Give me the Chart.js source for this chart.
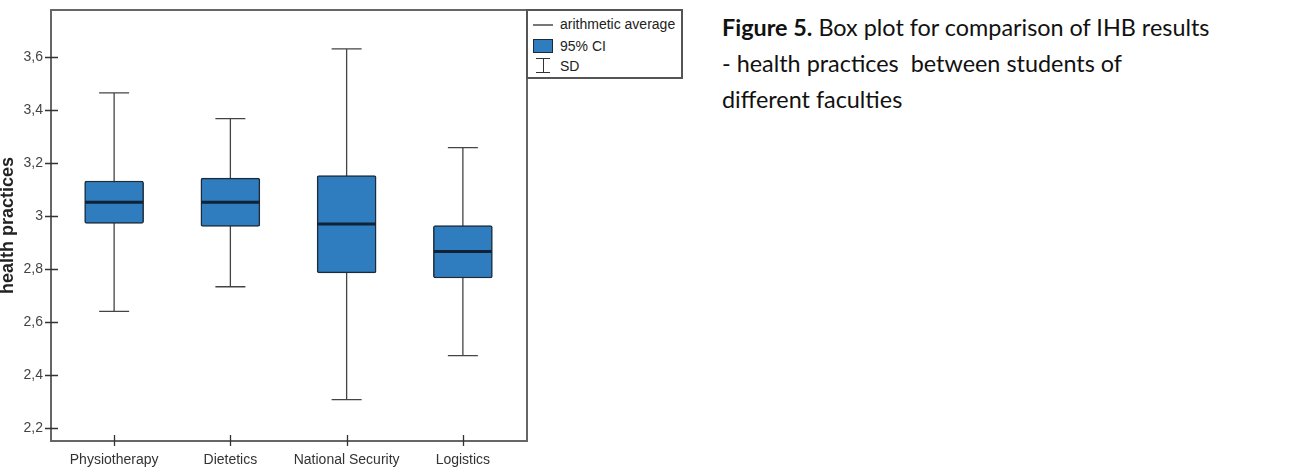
<!DOCTYPE html>
<html>
<head>
<meta charset="utf-8">
<script src="https://cdn.jsdelivr.net/npm/chart.js@4"></script>
<style>
  body { margin: 0; background: #fff; }
  #page { position: relative; width: 1312px; height: 475px; overflow: hidden; font-family: "Liberation Sans", Arial, sans-serif; }
  #wrap { position: absolute; left: 0; top: 0; width: 530px; height: 475px; }
  #legend { position: absolute; left: 526px; top: 9px; width: 157px; height: 70px; border: 2px solid #555; box-sizing: border-box; background: #fff; font-size: 14px; color: #222; }
  #legend .row { position: absolute; left: 32px; line-height: 16px; }
  #legend .sw { position: absolute; }
  #caption { position: absolute; left: 722px; top: 9px; font-family: Lato, "Open Sans", sans-serif; font-size: 23.4px; line-height: 36px; color: #111; white-space: nowrap; }
</style>
</head>
<body>
<div id="page">
  <div id="wrap"><canvas id="boxChart" width="530" height="475"></canvas></div>
  <div id="legend">
    <div class="sw" style="left:5px;top:13px;width:20px;height:0;border-top:2px solid #777;"></div>
    <div class="row" style="top:5px;">arithmetic average</div>
    <div class="sw" style="left:5px;top:28px;width:20px;height:14px;background:#2f7cbf;border:1.5px solid #1c2b3a;box-sizing:border-box;"></div>
    <div class="row" style="top:27px;">95% CI</div>
    <div class="sw" style="left:8px;top:47px;width:14px;height:0;border-top:1.5px solid #333;"></div>
    <div class="sw" style="left:14.5px;top:47px;width:0;height:15px;border-left:1.5px solid #333;"></div>
    <div class="sw" style="left:8px;top:61px;width:14px;height:0;border-top:1.5px solid #333;"></div>
    <div class="row" style="top:47px;">SD</div>
  </div>
  <div id="caption"><b>Figure 5.</b> Box plot for comparison of IHB results<br>- health practices&nbsp; between students of<br>different faculties</div>
</div>
<script>
// faculties on the x axis
const categories = ['Physiotherapy', 'Dietetics', 'National Security', 'Logistics'];
// arithmetic average
const means = [3.052, 3.052, 2.970, 2.866];
// 95% CI (box)
const ciLow = [2.972, 2.961, 2.785, 2.766];
const ciHigh = [3.132, 3.143, 3.152, 2.964];
// SD (whiskers)
const sdLow = [2.640, 2.733, 2.307, 2.473];
const sdHigh = [3.464, 3.367, 3.630, 3.258];
// y axis ticks
const yTicks = [2.2, 2.4, 2.6, 2.8, 3.0, 3.2, 3.4, 3.6];

const boxFill = '#2f7cbf';
const boxEdge = '#1c2b3a';

// whiskers, mean lines, frame and crossing tick marks
const boxExtras = {
    id: 'boxExtras',
    beforeDatasetsDraw(chart) {
        const ctx = chart.ctx;
        const x = chart.scales.x, y = chart.scales.y;
        ctx.save();
        ctx.strokeStyle = '#444';
        ctx.lineWidth = 1.3;
        categories.forEach((c, i) => {
            const cx = x.getPixelForValue(i);
            const top = y.getPixelForValue(sdHigh[i]);
            const bot = y.getPixelForValue(sdLow[i]);
            ctx.beginPath();
            ctx.moveTo(cx, top); ctx.lineTo(cx, bot);
            ctx.moveTo(cx - 15, top); ctx.lineTo(cx + 15, top);
            ctx.moveTo(cx - 15, bot); ctx.lineTo(cx + 15, bot);
            ctx.stroke();
        });
        ctx.restore();
    },
    afterDatasetsDraw(chart) {
        const ctx = chart.ctx;
        const x = chart.scales.x, y = chart.scales.y;
        ctx.save();
        ctx.strokeStyle = '#0f2236';
        ctx.lineWidth = 3;
        categories.forEach((c, i) => {
            const cx = x.getPixelForValue(i);
            const my = y.getPixelForValue(means[i]);
            ctx.beginPath();
            ctx.moveTo(cx - 29, my); ctx.lineTo(cx + 29, my);
            ctx.stroke();
        });
        ctx.restore();
    },
    afterDraw(chart) {
        const ctx = chart.ctx;
        const x = chart.scales.x, y = chart.scales.y;
        const a = chart.chartArea;
        const fl = a.left - 5, fr = a.right + 6;
        ctx.save();
        ctx.strokeStyle = '#666';
        ctx.lineWidth = 2;
        ctx.strokeRect(fl, a.top, fr - fl, a.bottom - a.top);
        ctx.strokeStyle = '#333';
        ctx.lineWidth = 1.3;
        ctx.beginPath();
        y.ticks.forEach(t => {
            const py = Math.round(y.getPixelForValue(t.value)) + 0.5;
            ctx.moveTo(fl - 6, py); ctx.lineTo(fl + 7, py);
        });
        categories.forEach((c, i) => {
            const px = Math.round(x.getPixelForValue(i)) + 0.5;
            ctx.moveTo(px, a.bottom - 6); ctx.lineTo(px, a.bottom + 5);
        });
        ctx.stroke();
        ctx.restore();
    }
};

new Chart(document.getElementById('boxChart').getContext('2d'), {
    type: 'bar',
    data: {
        labels: categories,
        datasets: [{
            label: '95% CI',
            data: categories.map((c, i) => [ciLow[i], ciHigh[i]]),
            backgroundColor: boxFill,
            borderColor: boxEdge,
            borderWidth: 1.5,
            borderRadius: 2,
            borderSkipped: false,
            barThickness: 59
        }]
    },
    options: {
        responsive: false,
        animation: false,
        devicePixelRatio: 1,
        layout: { padding: { top: 10, right: 9, left: 0, bottom: 0 } },
        plugins: { legend: { display: false }, tooltip: { enabled: false } },
        scales: {
            x: {
                grid: { display: false, drawTicks: false },
                border: { display: false },
                ticks: { color: '#333', font: { family: 'Liberation Sans', size: 14 }, padding: 11 },
                afterFit(scale) { scale.height = 34; }
            },
            y: {
                min: 2.151,
                max: 3.777,
                grid: { display: false, drawTicks: false },
                border: { display: false },
                afterBuildTicks(scale) { scale.ticks = yTicks.map(v => ({ value: v })); },
                ticks: {
                    color: '#444',
                    font: { family: 'Liberation Sans', size: 14 },
                    padding: 13,
                    callback: v => String(Math.round(v * 10) / 10).replace('.', ',')
                },
                title: {
                    display: true,
                    text: 'health practices',
                    color: '#222',
                    font: { family: 'Liberation Sans', size: 18, weight: 'bold', lineHeight: 1 },
                    padding: { top: -1, bottom: 0 }
                },
                afterFit(scale) {
                    scale.width = 56;
                    scale.paddingTop = 0;
                    scale.paddingBottom = 0;
                }
            }
        }
    },
    plugins: [boxExtras]
});
</script>
</body>
</html>
